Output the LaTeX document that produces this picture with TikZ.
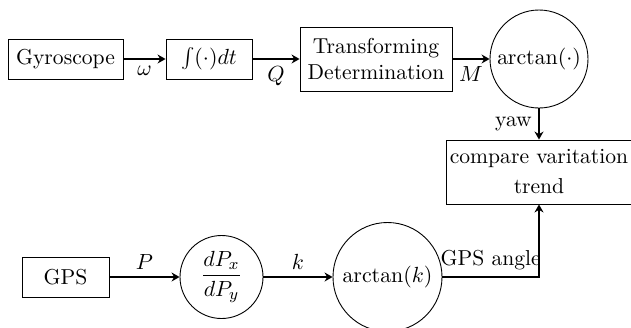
\documentclass[tikz,border=0pt]{standalone}
\usetikzlibrary{arrows.meta}
\begin{document}
\begin{tikzpicture}[x=0.5pt,y=-0.5pt,
  font=\fontsize{10.8}{13}\selectfont,
  block/.style={draw, line width=0.45pt, inner sep=0pt, align=center},
  circ/.style={draw, line width=0.45pt, circle, inner sep=0pt},
  conn/.style={-{Stealth[length=4pt, width=4.5pt, inset=1.3pt]}, line width=0.55pt}]
\useasboundingbox (0,0) rectangle (631,327);

% gyroscope chain
\node[block, minimum width=57.5pt, minimum height=20pt] (gyro) at (65.5,59) {Gyroscope};
\node[block, minimum width=43pt, minimum height=20pt] (int) at (209,59) {$\int(\cdot)dt$};
\node[block, minimum width=76pt, minimum height=32pt] (tf) at (376,59) {Transforming\\Determination};
\node[circ, minimum size=49pt] (atan) at (539,59) {$\arctan(\cdot)$};

% comparison
\node[block, minimum width=93pt, minimum height=32pt,
      font=\fontsize{10.8}{15}\selectfont] (cmp) at (539,172) {compare varitation\\trend};

% GPS chain
\node[block, minimum width=43.5pt, minimum height=20pt] (gps) at (65.5,277) {GPS};
\node[circ, minimum size=41.5pt] (dp) at (221.5,277) {$\displaystyle\frac{dP_x}{dP_y}$};
\node[circ, minimum size=54.5pt] (atk) at (387.5,277) {$\arctan(k)$};

% connectors
\draw[conn] (gyro) -- node[below]{$\omega$} (int);
\draw[conn] (int) -- node[below]{$Q$} (tf);
\draw[conn] (tf) -- node[below]{$M$} (atan);
\draw[conn] (atan) -- node[left]{yaw} (cmp);
\draw[conn] (gps) -- node[above]{$P$} (dp);
\draw[conn] (dp) -- node[above]{$k$} (atk);
\draw[conn] (atk.east) -| node[pos=0.25, above]{GPS angle} (cmp.south);
\end{tikzpicture}
\end{document}
